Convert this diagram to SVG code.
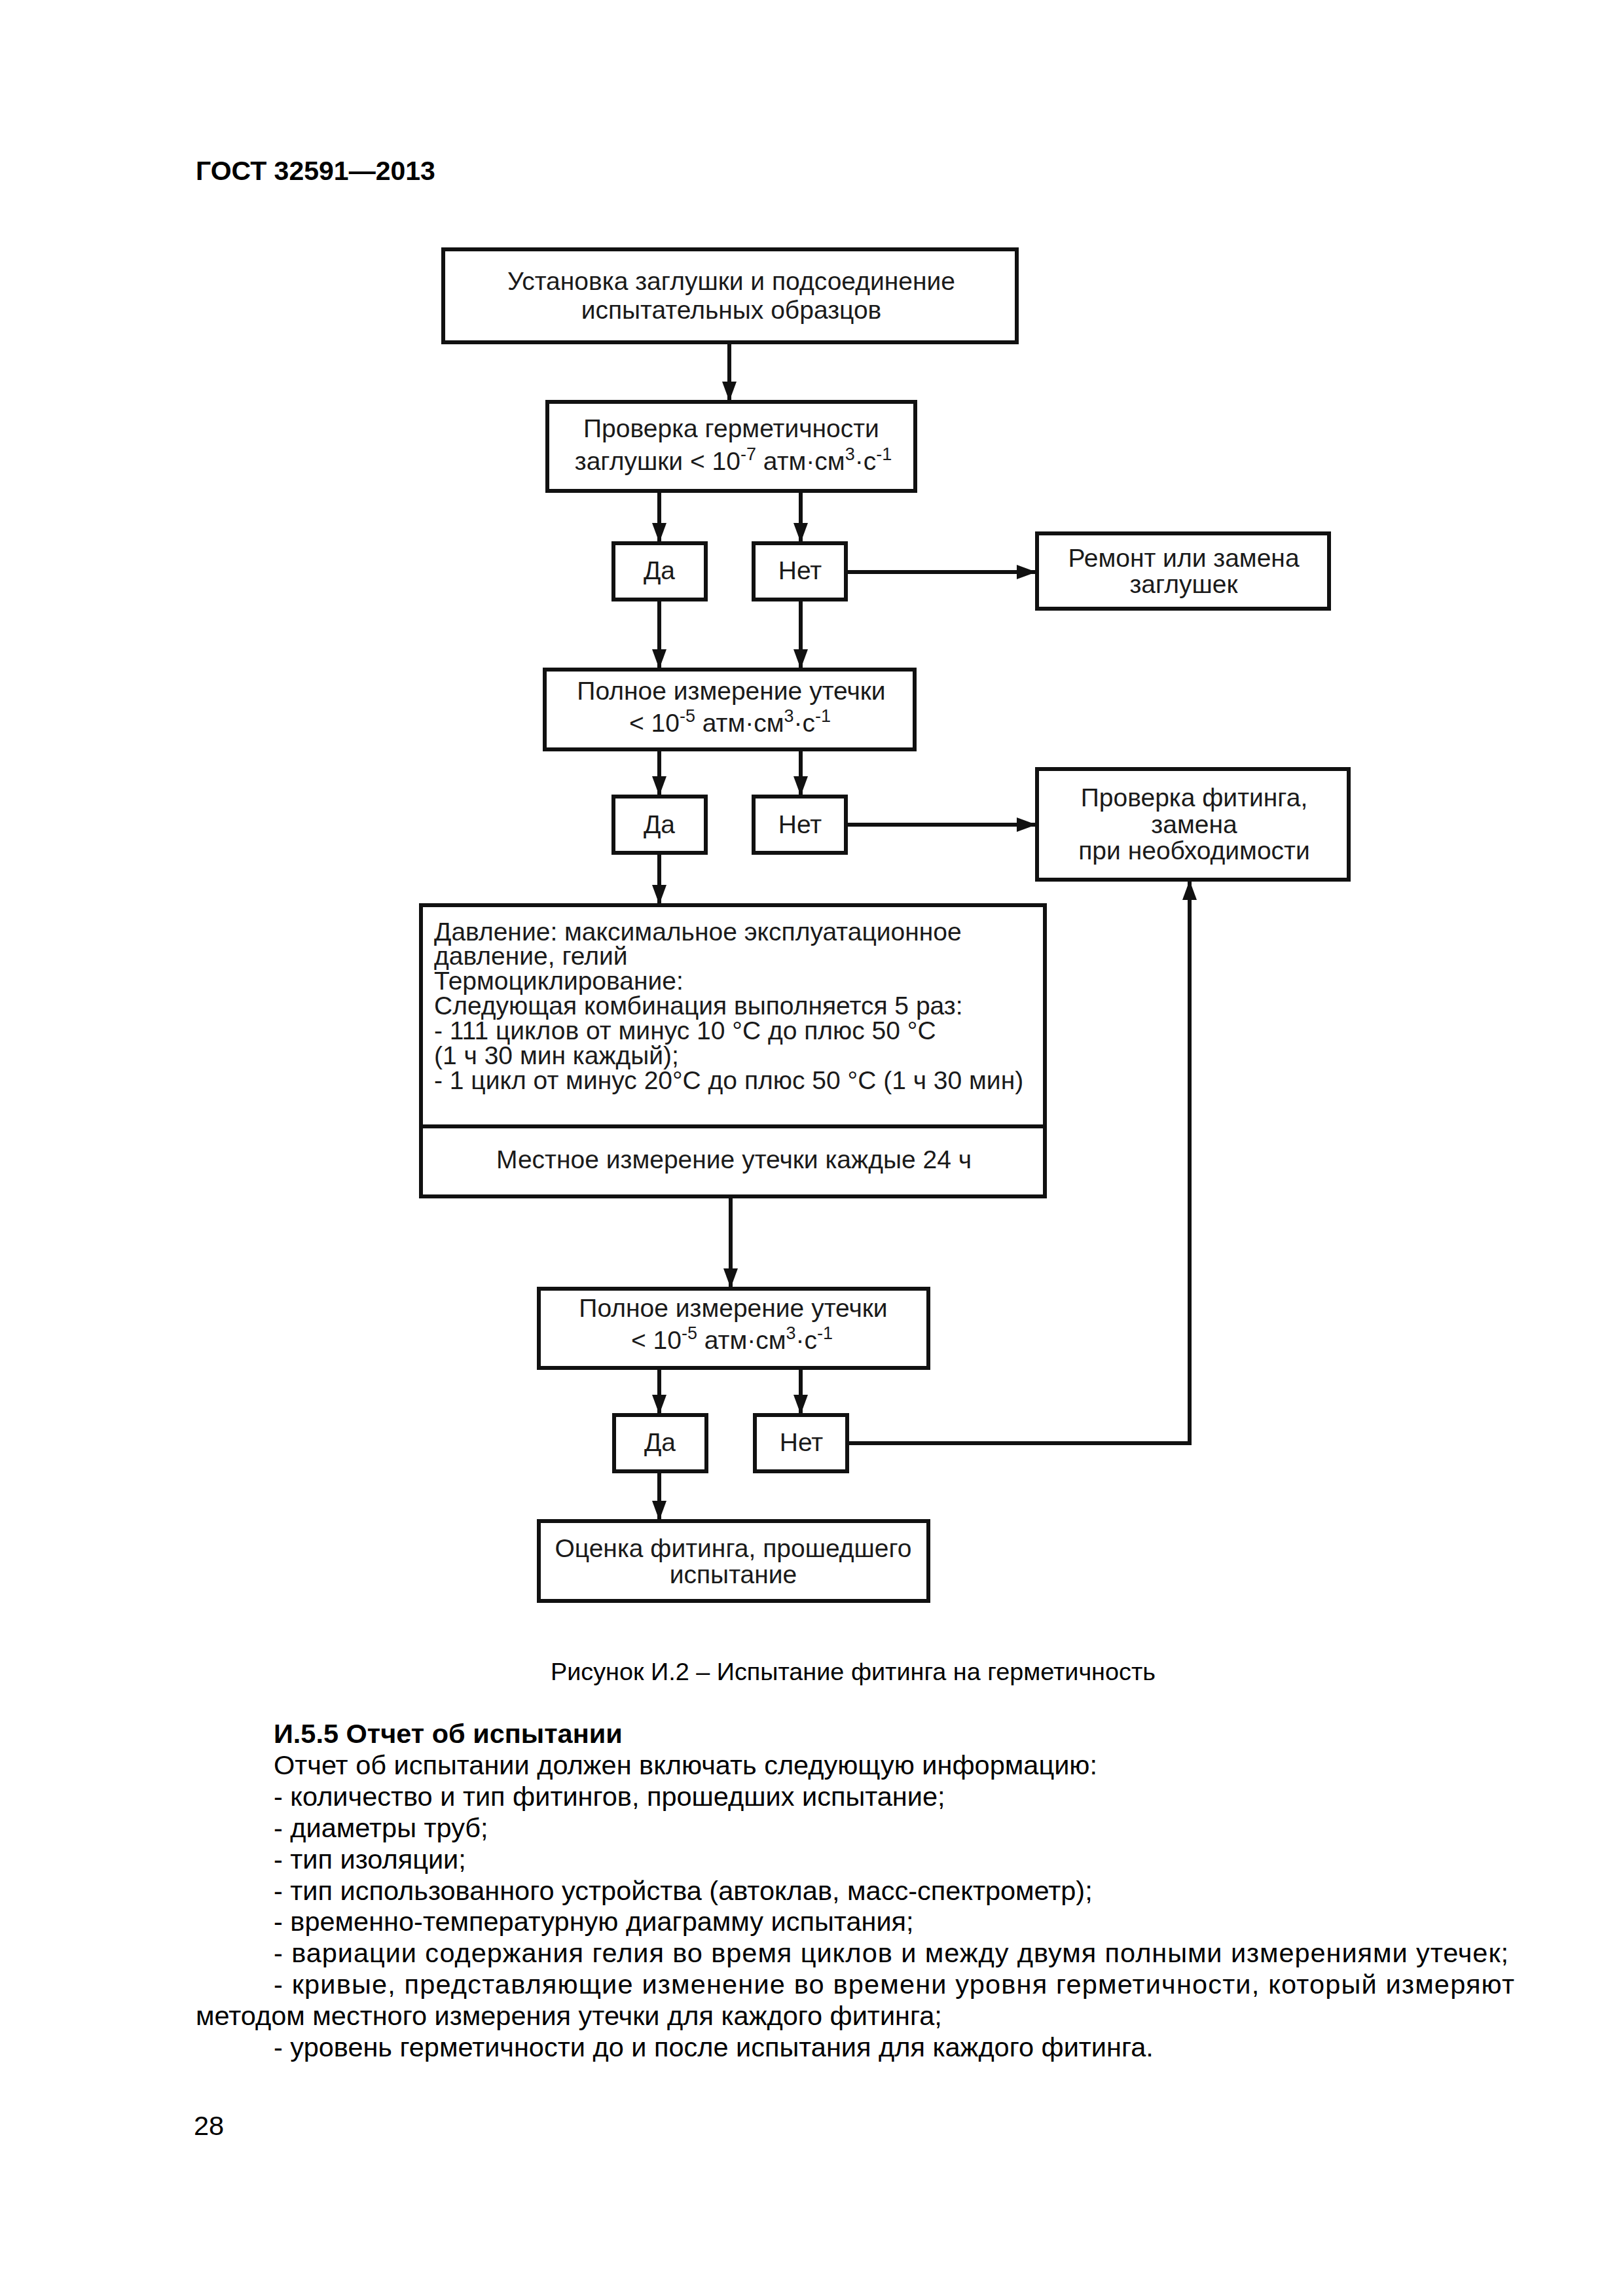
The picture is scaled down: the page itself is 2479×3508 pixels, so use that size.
<svg xmlns="http://www.w3.org/2000/svg" width="2479" height="3508" viewBox="0 0 2479 3508">
<style>
.box{fill:#fff;stroke:#111;stroke-width:6}
.bt{font-family:"Liberation Sans",Arial,sans-serif;font-size:39px;fill:#1a1a1a;text-anchor:middle}
.bl{font-family:"Liberation Sans",Arial,sans-serif;font-size:39px;fill:#1a1a1a}
.sup{font-size:27px}
.con{fill:none;stroke:#111;stroke-width:6}
.body{font-family:"Liberation Sans",Arial,sans-serif;font-size:41.5px;fill:#000}
.bold{font-weight:bold}
.cap{font-size:37.8px}
.hdr{font-size:41px}
</style>
<defs>
<marker id="ah" markerUnits="userSpaceOnUse" markerWidth="30" markerHeight="22" refX="29" refY="11" orient="auto">
<path d="M0,0 L30,11 L0,22 z" fill="#111"/>
</marker>
</defs>
<rect x="0" y="0" width="2479" height="3508" fill="#fff"/>
<text class="body bold hdr" x="299" y="275">ГОСТ 32591—2013</text>

<g id="connectors">
<line class="con" x1="1114" y1="523" x2="1114" y2="612" marker-end="url(#ah)"/>
<line class="con" x1="1007" y1="750" x2="1007" y2="828" marker-end="url(#ah)"/>
<line class="con" x1="1223" y1="750" x2="1223" y2="828" marker-end="url(#ah)"/>
<line class="con" x1="1292" y1="874" x2="1582" y2="874" marker-end="url(#ah)"/>
<line class="con" x1="1007" y1="916" x2="1007" y2="1021" marker-end="url(#ah)"/>
<line class="con" x1="1223" y1="916" x2="1223" y2="1021" marker-end="url(#ah)"/>
<line class="con" x1="1007" y1="1145" x2="1007" y2="1215" marker-end="url(#ah)"/>
<line class="con" x1="1223" y1="1145" x2="1223" y2="1215" marker-end="url(#ah)"/>
<line class="con" x1="1292" y1="1260" x2="1582" y2="1260" marker-end="url(#ah)"/>
<line class="con" x1="1007" y1="1303" x2="1007" y2="1381" marker-end="url(#ah)"/>
<line class="con" x1="1116" y1="1828" x2="1116" y2="1967" marker-end="url(#ah)"/>
<line class="con" x1="1007" y1="2090" x2="1007" y2="2160" marker-end="url(#ah)"/>
<line class="con" x1="1223" y1="2090" x2="1223" y2="2160" marker-end="url(#ah)"/>
<polyline class="con" points="1294,2205 1817,2205 1817,1346" marker-end="url(#ah)"/>
<line class="con" x1="1007" y1="2248" x2="1007" y2="2322" marker-end="url(#ah)"/>
</g>

<g id="n1">
<rect class="box" x="677" y="381" width="876" height="142"/>
<text class="bt" x="1117" y="443">Установка заглушки и подсоединение</text>
<text class="bt" x="1117" y="487">испытательных образцов</text>
</g>
<g id="n2">
<rect class="box" x="836" y="614" width="562" height="136"/>
<text class="bt" x="1117" y="668">Проверка герметичности</text>
<text class="bt" x="1120" y="718">заглушки &lt; 10<tspan class="sup" dy="-15">-7</tspan><tspan dy="15"> атм·см</tspan><tspan class="sup" dy="-15">3</tspan><tspan dy="15">·с</tspan><tspan class="sup" dy="-15">-1</tspan></text>
</g>
<g id="n3">
<rect class="box" x="937" y="830" width="141" height="86"/>
<text class="bt" x="1007" y="885">Да</text>
</g>
<g id="n4">
<rect class="box" x="1151" y="830" width="141" height="86"/>
<text class="bt" x="1222" y="885">Нет</text>
</g>
<g id="n5">
<rect class="box" x="1584" y="815" width="446" height="115"/>
<text class="bt" x="1808" y="866">Ремонт или замена</text>
<text class="bt" x="1808" y="906">заглушек</text>
</g>
<g id="n6">
<rect class="box" x="832" y="1023" width="565" height="122"/>
<text class="bt" x="1117" y="1069">Полное измерение утечки</text>
<text class="bt" x="1115" y="1118">&lt; 10<tspan class="sup" dy="-15">-5</tspan><tspan dy="15"> атм·см</tspan><tspan class="sup" dy="-15">3</tspan><tspan dy="15">·с</tspan><tspan class="sup" dy="-15">-1</tspan></text>
</g>
<g id="n7">
<rect class="box" x="937" y="1217" width="141" height="86"/>
<text class="bt" x="1007" y="1273">Да</text>
</g>
<g id="n8">
<rect class="box" x="1151" y="1217" width="141" height="86"/>
<text class="bt" x="1222" y="1273">Нет</text>
</g>
<g id="n9">
<rect class="box" x="1584" y="1175" width="476" height="169"/>
<text class="bt" x="1824" y="1232">Проверка фитинга,</text>
<text class="bt" x="1824" y="1273">замена</text>
<text class="bt" x="1824" y="1313">при необходимости</text>
</g>
<g id="n10">
<rect class="box" x="643" y="1383" width="953" height="338"/>
<text class="bl" x="663" y="1437">Давление: максимальное эксплуатационное</text>
<text class="bl" x="663" y="1474">давление, гелий</text>
<text class="bl" x="663" y="1512">Термоциклирование:</text>
<text class="bl" x="663" y="1550">Следующая комбинация выполняется 5 раз:</text>
<text class="bl" x="663" y="1588">- 111 циклов от минус 10 °C до плюс 50 °C</text>
<text class="bl" x="663" y="1626">(1 ч 30 мин каждый);</text>
<text class="bl" x="663" y="1664">- 1 цикл от минус 20°C до плюс 50 °C (1 ч 30 мин)</text>
</g>
<g id="n11">
<rect class="box" x="643" y="1721" width="953" height="107"/>
<text class="bt" x="1121" y="1785">Местное измерение утечки каждые 24 ч</text>
</g>
<g id="n12">
<rect class="box" x="823" y="1969" width="595" height="121"/>
<text class="bt" x="1120" y="2012">Полное измерение утечки</text>
<text class="bt" x="1118" y="2061">&lt; 10<tspan class="sup" dy="-15">-5</tspan><tspan dy="15"> атм·см</tspan><tspan class="sup" dy="-15">3</tspan><tspan dy="15">·с</tspan><tspan class="sup" dy="-15">-1</tspan></text>
</g>
<g id="n13">
<rect class="box" x="938" y="2162" width="141" height="86"/>
<text class="bt" x="1008" y="2217">Да</text>
</g>
<g id="n14">
<rect class="box" x="1153" y="2162" width="141" height="86"/>
<text class="bt" x="1224" y="2217">Нет</text>
</g>
<g id="n15">
<rect class="box" x="823" y="2324" width="595" height="122"/>
<text class="bt" x="1120" y="2379">Оценка фитинга, прошедшего</text>
<text class="bt" x="1120" y="2419">испытание</text>
</g>

<text class="body cap" x="841" y="2567">Рисунок И.2 – Испытание фитинга на герметичность</text>
<text class="body bold" x="418" y="2663">И.5.5 Отчет об испытании</text>
<text class="body" x="418" y="2711">Отчет об испытании должен включать следующую информацию:</text>
<text class="body" x="418" y="2759">- количество и тип фитингов, прошедших испытание;</text>
<text class="body" x="418" y="2807">- диаметры труб;</text>
<text class="body" x="418" y="2855">- тип изоляции;</text>
<text class="body" x="418" y="2903">- тип использованного устройства (автоклав, масс-спектрометр);</text>
<text class="body" x="418" y="2950">- временно-температурную диаграмму испытания;</text>
<text class="body" x="418" y="2998" textLength="1886" lengthAdjust="spacing">- вариации содержания гелия во время циклов и между двумя полными измерениями утечек;</text>
<text class="body" x="418" y="3046" textLength="1895" lengthAdjust="spacing">- кривые, представляющие изменение во времени уровня герметичности, который измеряют</text>
<text class="body" x="299" y="3094">методом местного измерения утечки для каждого фитинга;</text>
<text class="body" x="418" y="3142">- уровень герметичности до и после испытания для каждого фитинга.</text>
<text class="body" x="296" y="3262">28</text>
</svg>
